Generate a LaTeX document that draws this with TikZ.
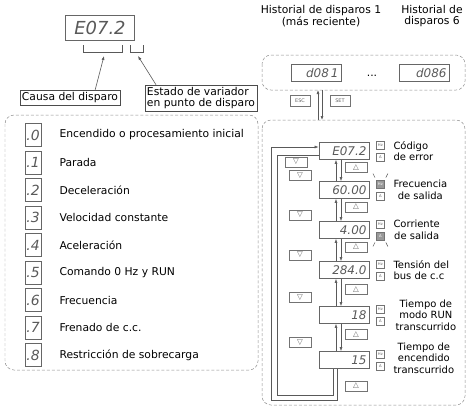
\documentclass[tikz,border=0pt]{standalone}
\usepackage{fontspec}
\setmainfont{DejaVu Sans}
\usetikzlibrary{arrows.meta,calc}

\begin{document}
\begin{tikzpicture}[x=1bp, y=-1bp, font=\fontsize{10.8}{11.5}\selectfont,
  line/.style={draw=black!65, line width=0.6pt},
  arr/.style={line, -{Latex[length=4bp,width=3bp]}},
  panel/.style={draw=black!45, densely dashed, line width=0.5pt, rounded corners=9bp},
  disp/.style={draw=black!60, line width=0.8pt, minimum height=17bp, text width=45bp, align=right,
    inner sep=2.5pt, text=black!65, font=\itshape\fontsize{12}{12}\selectfont},
  digit/.style={draw=black!60, line width=0.8pt, minimum width=16bp, minimum height=23bp, inner sep=0pt,
    text=black!65, font=\itshape\fontsize{14}{14}\selectfont},
  lbl/.style={draw=black!70, line width=0.7pt, inner sep=2pt, align=left},
  key/.style={draw=black!55, line width=0.5pt, minimum width=22bp, minimum height=10bp, inner sep=0pt,
    text=black!60, font=\fontsize{7.5}{7.5}\selectfont},
  ind/.style={draw=black!55, line width=0.4pt, minimum size=8.5bp, inner sep=0pt,
    text=black!60, font=\fontsize{3.8}{3.8}\selectfont},
  lit/.style={ind, fill=black!40, text=white},
  desc/.style={anchor=west, align=center, font=\fontsize{10}{11.5}\selectfont}]

\useasboundingbox (0,0) rectangle (469,409);

% --- codigo de disparo
\node[disp, text width=64bp, minimum height=25bp, font=\itshape\fontsize{18}{18}\selectfont, align=center] (code) at (100,28) {E07.2};
\draw[line] (83,45) -- (83,52) -- (122,52) -- (122,45);
\draw[line] (130,45) -- (130,52) -- (143,52) -- (143,45);
\coordinate (causeTip) at (104,56);
\coordinate (stateTip) at (138,56);
\node[lbl] (cause) at (70,98) {Causa del disparo};
\node[lbl] (state) at (201,98) {Estado de variador\\en punto de disparo};
\draw[arr] ([xshift=25bp]cause.north) -- (causeTip);
\draw[arr] ([xshift=-45bp]state.north) -- (stateTip);

% --- estados del variador
\draw[panel] (5,115) rectangle (258,370);
\foreach \d/\t [count=\i from 0] in {0/Encendido o procesamiento inicial, 1/Parada, 2/Deceleración,
    3/Velocidad constante, 4/Aceleración, 5/Comando 0 Hz y RUN, 6/Frecuencia,
    7/Frenado de c.c., 8/Restricción de sobrecarga} {
  \node[digit] (st\d) at (33,{135+27.5*\i}) {.\d};
  \node[anchor=west] (stl\d) at (56,{135+27.5*\i}) {\t};
}

% --- historial
\node[align=center] (hist1) at (321,16) {Historial de disparos 1\\(más reciente)};
\node[align=center] (hist6) at (432,16) {Historial de\\disparos 6};
\draw[panel] (262,55) rectangle (465,90);
\node[disp] (d1) at (316,73) {d08\,1};
\node[disp] (d6) at (424,73) {d086};
\node (dots) at (372,76) {...};
\node[key, minimum width=20bp, minimum height=11bp, font=\fontsize{5}{5}\selectfont] (esc) at (300,101) {ESC};
\node[key, minimum width=20bp, minimum height=11bp, font=\fontsize{5}{5}\selectfont] (set) at (340,101) {SET};
\coordinate (histB) at (320,90);
\coordinate (monT) at (320,120);
\draw[arr] ([xshift=-2bp]monT) -- ([xshift=-2bp]histB);
\draw[arr] ([xshift=2bp]histB) -- ([xshift=2bp]monT);

% --- monitor
\draw[panel] (262,120) rectangle (465,405);
\node[disp] (err) at (344,151) {E07.2};
\node[disp] (freq) at (344,190) {60.00};
\node[disp] (curr) at (344,230) {4.00};
\node[disp] (vbus) at (344,270) {284.0};
\node[disp] (run) at (344,315) {18};
\node[disp] (pwr) at (344,360) {15};

\foreach \n in {err, curr, vbus, run, pwr}
  \node[ind] (hz-\n) at ([xshift=11bp,yshift=6bp]\n.east) {Hz};
\node[lit] (hz-freq) at ([xshift=11bp,yshift=6bp]freq.east) {Hz};
\foreach \n in {err, freq, vbus, run, pwr}
  \node[ind] (a-\n) at ([xshift=11bp,yshift=-6bp]\n.east) {A};
\node[lit] (a-curr) at ([xshift=11bp,yshift=-6bp]curr.east) {A};

% destellos
\draw[line, line width=0.5pt] ([xshift=-1bp,yshift=2bp]hz-freq.north west) -- ++(-2,-4);
\draw[line, line width=0.5pt] ([xshift=1bp,yshift=2bp]hz-freq.north east) -- ++(2,-4);
\draw[line, line width=0.5pt] ([xshift=-1bp,yshift=-2bp]a-curr.south west) -- ++(-2,4);
\draw[line, line width=0.5pt] ([xshift=1bp,yshift=-2bp]a-curr.south east) -- ++(2,4);

\node[desc, align=left] (t-err) at (390,151) {Código\\de error};
\node[desc] (t-freq) at (390,190) {Frecuencia\\de salida};
\node[desc] (t-curr) at (390,230) {Corriente\\de salida};
\node[desc, align=left] (t-vbus) at (390,270) {Tensión del\\bus de c.c};
\node[desc] (t-run) at (392,315) {Tiempo de\\modo RUN\\transcurrido};
\node[desc] (t-pwr) at (390,358) {Tiempo de\\encendido\\transcurrido};

\foreach \a/\b in {err/freq, freq/curr, curr/vbus, vbus/run, run/pwr} {
  \draw[arr] ([xshift=-8bp]\b.north) -- ([xshift=-8bp]\a.south);
  \draw[arr] ([xshift=-3bp]\a.south) -- ([xshift=-3bp]\b.north);
  \node[key] (dn-\a) at ($(\a.south)!0.5!(\b.north)+(-44,5)$) {▽};
  \node[key] (up-\a) at ($(\a.south)!0.5!(\b.north)+(12,-3)$) {△};
}

% vuelta completa
\node[key] (dn-loop) at (296,162) {▽};
\node[key] (up-loop) at (356,386) {△};
\draw[arr] ([xshift=-7bp]pwr.south) |- (271,400) |- ([yshift=4bp]err.west);
\draw[line] ([yshift=-4bp]err.west) -| (277,395) -| ([xshift=-11bp]pwr.south);

\end{tikzpicture}
\end{document}
